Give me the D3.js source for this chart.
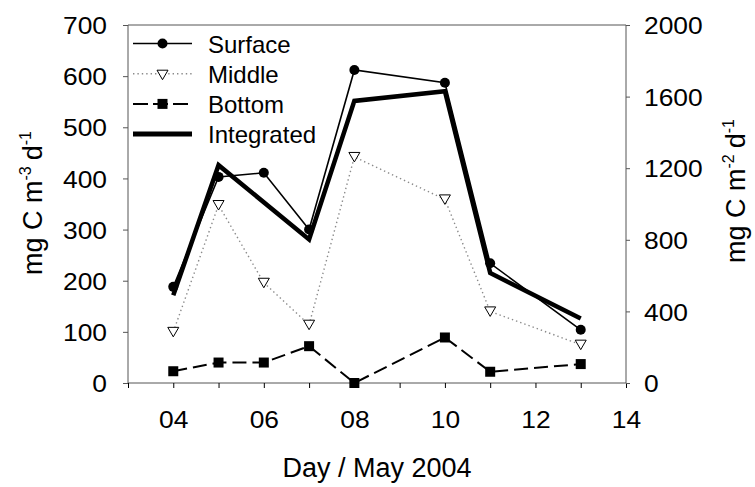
<!DOCTYPE html>
<html>
<head>
<meta charset="utf-8">
<script src="https://cdn.jsdelivr.net/npm/d3@7"></script>
<style>
  body { margin: 0; background: #fff; }
  svg text { font-family: "Liberation Sans", Arial, sans-serif; fill: #000; }
</style>
</head>
<body>
<svg width="755" height="487"></svg>
<script>
// data
const days = [4, 5, 6, 7, 8, 10, 11, 13];
const surface = [188, 403, 411, 300, 612, 587, 234, 104];
const middle = [100, 348, 196, 114, 442, 359, 140, 75];
const bottom = [23, 40, 40, 72, 0, 89, 22, 37];
const integrated = [490, 1217, null, 802, 1576, 1630, 615, 360]; // right axis, no value on day 6
const xTickLabels = ["04", "06", "08", "10", "12", "14"];
const leftTicks = [0, 100, 200, 300, 400, 500, 600, 700];
const rightTicks = [0, 400, 800, 1200, 1600, 2000];

const svg = d3.select("svg");
const width = +svg.attr("width");
const height = +svg.attr("height");
const margin = { top: 25, right: 129, bottom: 104, left: 128 };
const innerWidth = width - margin.left - margin.right;
const innerHeight = height - margin.top - margin.bottom;

const g = svg.append("g")
  .attr("transform", `translate(${margin.left},${margin.top})`);

const x = d3.scaleLinear().domain([3, 14]).range([0, innerWidth]);
const y = d3.scaleLinear().domain([0, 700]).range([innerHeight, 0]);
const y2 = d3.scaleLinear().domain([0, 2000]).range([innerHeight, 0]);

// widen the glyphs a bit, the tick font of the original is broader
function stretch(sel, k) {
  sel.each(function () {
    const w = this.getComputedTextLength();
    d3.select(this).attr("textLength", w * k).attr("lengthAdjust", "spacingAndGlyphs");
  });
}

const axisColor = "#555";
const tickFont = 24;

// top frame line
g.append("line")
  .attr("x1", 0).attr("x2", innerWidth)
  .attr("y1", 0).attr("y2", 0)
  .attr("stroke", axisColor).attr("stroke-width", 1);

// x axis: a tick every day, a label every second day
const xAxis = g.append("g")
  .attr("transform", `translate(0,${innerHeight})`)
  .call(d3.axisBottom(x)
    .tickValues(d3.range(3, 15))
    .tickSize(5)
    .tickFormat(d => (d % 2 === 0 ? xTickLabels[(d - 4) / 2] : "")));
xAxis.select(".domain").attr("stroke", axisColor).attr("d", `M0,0H${innerWidth}`);
xAxis.selectAll(".tick line").attr("stroke", "#000");
xAxis.selectAll(".tick text").filter(d => d % 2 !== 0).remove();
xAxis.selectAll(".tick text").attr("font-size", tickFont).attr("y", 45).attr("dy", 0);
stretch(xAxis.selectAll(".tick text"), 1.1);

// left axis
const yAxis = g.append("g")
  .call(d3.axisLeft(y).tickValues(leftTicks).tickSize(5).tickPadding(16));
yAxis.select(".domain").attr("stroke", axisColor).attr("d", `M0,${innerHeight}V0`);
yAxis.selectAll(".tick line").attr("stroke", axisColor);
yAxis.selectAll(".tick text").attr("font-size", tickFont).attr("dy", "0.36em");
stretch(yAxis.selectAll(".tick text"), 1.1);

// right axis
const y2Axis = g.append("g")
  .attr("transform", `translate(${innerWidth},0)`)
  .call(d3.axisRight(y2).tickValues(rightTicks).tickSize(4).tickPadding(14)
    .tickFormat(d3.format("d")));
y2Axis.select(".domain").attr("stroke", axisColor).attr("d", `M0,${innerHeight}V0`);
y2Axis.selectAll(".tick line").attr("stroke", axisColor);
y2Axis.selectAll(".tick text").attr("font-size", tickFont).attr("dy", "0.36em");
stretch(y2Axis.selectAll(".tick text"), 1.1);

// series
const pts = vals => days.map((d, i) => [d, vals[i]]).filter(p => p[1] != null);

const lineL = d3.line().x(d => x(d[0])).y(d => y(d[1]));
const lineR = d3.line().x(d => x(d[0])).y(d => y2(d[1]));

const triangle = "M-5.5,-4.5L5.5,-4.5L0,5Z";

// Middle
g.append("path")
  .datum(pts(middle))
  .attr("d", lineL)
  .attr("fill", "none")
  .attr("stroke", "#8a8a8a")
  .attr("stroke-width", 1.4)
  .attr("stroke-dasharray", "1.4,3");

// Bottom
g.append("path")
  .datum(pts(bottom))
  .attr("d", lineL)
  .attr("fill", "none")
  .attr("stroke", "#000")
  .attr("stroke-width", 2)
  .attr("stroke-dasharray", "14,6");

// Surface
g.append("path")
  .datum(pts(surface))
  .attr("d", lineL)
  .attr("fill", "none")
  .attr("stroke", "#000")
  .attr("stroke-width", 1.6);

// Integrated
g.append("path")
  .datum(pts(integrated))
  .attr("d", lineR)
  .attr("fill", "none")
  .attr("stroke", "#000")
  .attr("stroke-width", 4.5)
  .attr("stroke-linejoin", "miter");

// markers
g.selectAll(".mid-pt")
  .data(pts(middle))
  .enter().append("path")
    .attr("class", "mid-pt")
    .attr("transform", d => `translate(${x(d[0])},${y(d[1])})`)
    .attr("d", triangle)
    .attr("fill", "#fff")
    .attr("stroke", "#000")
    .attr("stroke-width", 1);

g.selectAll(".bot-pt")
  .data(pts(bottom))
  .enter().append("rect")
    .attr("class", "bot-pt")
    .attr("x", d => x(d[0]) - 5)
    .attr("y", d => y(d[1]) - 5)
    .attr("width", 10)
    .attr("height", 10)
    .attr("fill", "#000");

g.selectAll(".surf-pt")
  .data(pts(surface))
  .enter().append("circle")
    .attr("class", "surf-pt")
    .attr("cx", d => x(d[0]))
    .attr("cy", d => y(d[1]))
    .attr("r", 5)
    .attr("fill", "#000");

// legend
const legend = g.append("g").attr("transform", "translate(5,18.5)");
const legendItems = ["Surface", "Middle", "Bottom", "Integrated"];
const rowGap = 30.2;

legendItems.forEach((name, i) => {
  const row = legend.append("g").attr("transform", `translate(0,${i * rowGap})`);
  const ln = row.append("line").attr("x1", 0).attr("x2", 59).attr("y1", 0).attr("y2", 0);
  if (name === "Surface") {
    ln.attr("stroke", "#000").attr("stroke-width", 1.6);
    row.append("circle").attr("cx", 29.5).attr("cy", 0).attr("r", 5).attr("fill", "#000");
  } else if (name === "Middle") {
    ln.attr("stroke", "#8a8a8a").attr("stroke-width", 1.4).attr("stroke-dasharray", "1.4,3");
    row.append("path").attr("transform", "translate(29.5,1)").attr("d", triangle)
      .attr("fill", "#fff").attr("stroke", "#000");
  } else if (name === "Bottom") {
    ln.attr("stroke", "#000").attr("stroke-width", 2).attr("stroke-dasharray", "15,5");
    row.append("rect").attr("x", 24.5).attr("y", -5).attr("width", 10).attr("height", 10).attr("fill", "#000");
  } else {
    ln.attr("stroke", "#000").attr("stroke-width", 5);
  }
  row.append("text")
    .attr("x", 75)
    .attr("y", 9)
    .attr("font-size", 24)
    .text(name);
});

// axis titles
svg.append("text")
  .attr("x", margin.left + innerWidth / 2)
  .attr("y", 476.5)
  .attr("text-anchor", "middle")
  .attr("font-size", 27)
  .text("Day / May 2004");

function unitTitle(cx, cy, exp) {
  const t = svg.append("text")
    .attr("transform", `translate(${cx},${cy}) rotate(-90)`)
    .attr("text-anchor", "middle")
    .attr("font-size", 27);
  t.append("tspan").text("mg C m");
  t.append("tspan").attr("dy", -11).attr("font-size", 16).text(exp);
  t.append("tspan").attr("dy", 11).attr("dx", 6).text("d");
  t.append("tspan").attr("dy", -11).attr("font-size", 16).text("-1");
  return t;
}

unitTitle(42, 203, "-3");
unitTitle(745, 191, "-2");
</script>
</body>
</html>
